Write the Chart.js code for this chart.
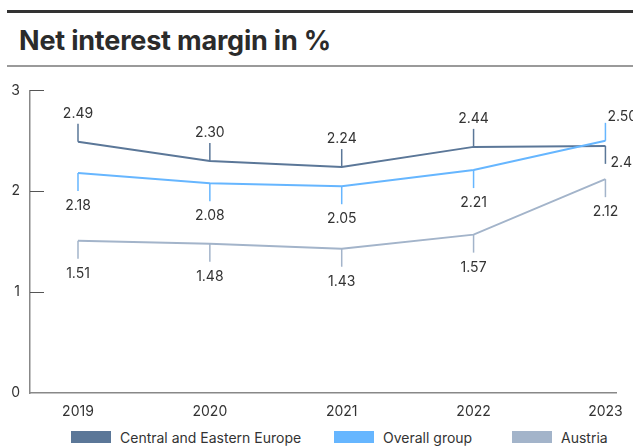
<!DOCTYPE html>
<html>
<head>
<meta charset="utf-8">
<script src="https://cdn.jsdelivr.net/npm/chart.js@4"></script>
<style>
  html, body { margin: 0; padding: 0; background: #fff; }
  body { width: 633px; height: 448px; position: relative; overflow: hidden; font-family: Inter, Roboto, sans-serif; }
  .rule-top { position: absolute; left: 7px; right: 0; top: 10px; height: 3px; background: #333; }
  .rule-mid { position: absolute; left: 7px; right: 0; top: 65px; height: 2px; background: #9a9a9a; }
  h1 { position: absolute; left: 19px; top: 26px; margin: 0; font-size: 27px; line-height: 30px; font-weight: 700; color: #2b2b2b; letter-spacing: -0.2px; }
  #chart-wrap { position: absolute; left: 0; top: 72px; width: 633px; height: 356px; }
  #legend { position: absolute; top: 428px; left: 0; width: 633px; height: 18px; font-size: 14px; color: #333; }
  .item { position: absolute; top: 0; display: flex; align-items: center; height: 18px; white-space: nowrap; }
  .swatch { width: 40px; height: 12px; margin-right: 9px; }
</style>
</head>
<body>
<div class="rule-top"></div>
<h1>Net interest margin in %</h1>
<div class="rule-mid"></div>
<div id="chart-wrap"><canvas id="nim-chart" width="633" height="356"></canvas></div>
<div id="legend"></div>
<script>
// Datos
const years = [2019, 2020, 2021, 2022, 2023];
const seriesNames = ['Central and Eastern Europe', 'Overall group', 'Austria'];
const ceeValues = [2.49, 2.30, 2.24, 2.44, 2.45];
const groupValues = [2.18, 2.08, 2.05, 2.21, 2.50];
const austriaValues = [1.51, 1.48, 1.43, 1.57, 2.12];
const yTicks = [0, 1, 2, 3];

const colors = ['#5b7798', '#66b6ff', '#a3b4ca'];
// donde va cada etiqueta (arriba / abajo / al lado)
const labelPos = [
    ['up', 'up', 'up', 'up', 'downRight'],
    ['down', 'down', 'down', 'down', 'upRight'],
    ['down', 'down', 'down', 'down', 'down']
];
const legendLeft = [71, 334, 512];

const toPoints = vals => years.map((y, i) => ({ x: y, y: vals[i] }));

// lineas guia + valores
const valueLabels = {
    id: 'valueLabels',
    afterDatasetsDraw(chart) {
        const ctx = chart.ctx;
        ctx.save();
        ctx.font = '14px Inter, Roboto, sans-serif';
        ctx.fillStyle = '#333';
        chart.data.datasets.forEach((ds, i) => {
            const meta = chart.getDatasetMeta(i);
            meta.data.forEach((pt, j) => {
                const pos = labelPos[i][j];
                const up = pos.startsWith('up');
                const end = up ? pt.y - 18 : pt.y + 18;
                ctx.strokeStyle = ds.borderColor;
                ctx.lineWidth = 1.5;
                ctx.beginPath();
                ctx.moveTo(pt.x, pt.y);
                ctx.lineTo(pt.x, end);
                ctx.stroke();
                const txt = ds.data[j].y.toFixed(2);
                ctx.textBaseline = 'alphabetic';
                if (pos === 'up') {
                    ctx.textAlign = 'center';
                    ctx.fillText(txt, pt.x, end - 6);
                } else if (pos === 'down') {
                    ctx.textAlign = 'center';
                    ctx.fillText(txt, pt.x, end + 19);
                } else if (pos === 'upRight') {
                    ctx.textAlign = 'left';
                    ctx.fillText(txt, pt.x + 2, end - 2);
                } else {
                    ctx.textAlign = 'left';
                    ctx.fillText(txt, pt.x + 5, end + 3);
                }
            });
        });
        ctx.restore();
    }
};

// marcas del eje y hacia dentro
const innerTicks = {
    id: 'innerTicks',
    afterDraw(chart) {
        const ctx = chart.ctx;
        const y = chart.scales.y;
        const left = chart.chartArea.left;
        ctx.save();
        ctx.strokeStyle = '#555';
        ctx.lineWidth = 1;
        yTicks.slice(1).forEach(v => {
            const py = Math.round(y.getPixelForValue(v)) + 0.5;
            ctx.beginPath();
            ctx.moveTo(left, py);
            ctx.lineTo(left + 14, py);
            ctx.stroke();
        });
        ctx.restore();
    }
};

const ctx = document.getElementById('nim-chart').getContext('2d');
const nimChart = new Chart(ctx, {
    type: 'line',
    data: {
        datasets: [
            { label: seriesNames[0], data: toPoints(ceeValues), borderColor: colors[0], backgroundColor: colors[0], order: 1 },
            { label: seriesNames[1], data: toPoints(groupValues), borderColor: colors[1], backgroundColor: colors[1], order: 0 },
            { label: seriesNames[2], data: toPoints(austriaValues), borderColor: colors[2], backgroundColor: colors[2], order: 2 }
        ]
    },
    options: {
        responsive: false,
        animation: false,
        devicePixelRatio: 1,
        elements: {
            line: { borderWidth: 2, tension: 0 },
            point: { radius: 0 }
        },
        layout: { padding: { top: 15, right: 16, left: 0, bottom: 0 } },
        scales: {
            x: {
                type: 'linear',
                min: 2018.636,
                max: 2023.083,
                grid: { display: false, drawTicks: false },
                border: { display: true, color: '#888', width: 1.5 },
                ticks: {
                    stepSize: 1,
                    includeBounds: false,
                    padding: 10,
                    color: '#333',
                    font: { family: 'Inter, Roboto, sans-serif', size: 14 },
                    maxRotation: 0,
                    callback: v => Number.isInteger(v) ? String(v) : ''
                },
                afterFit: s => { s.height = 35; }
            },
            y: {
                min: 0,
                max: 3,
                grid: { display: false, drawTicks: false },
                border: { display: true, color: '#888', width: 1.5 },
                ticks: {
                    stepSize: 1,
                    padding: 10,
                    color: '#333',
                    font: { family: 'Inter, Roboto, sans-serif', size: 14 }
                },
                afterFit: s => { s.width = 30; }
            }
        },
        plugins: {
            legend: { display: false },
            tooltip: { enabled: false }
        }
    },
    plugins: [valueLabels, innerTicks]
});

// leyenda en html
const legendEl = document.getElementById('legend');
nimChart.data.datasets.forEach((ds, i) => {
    const item = document.createElement('div');
    item.className = 'item';
    item.style.left = legendLeft[i] + 'px';
    item.innerHTML = `<span class="swatch" style="background:${ds.borderColor}"></span><span>${ds.label}</span>`;
    legendEl.appendChild(item);
});
</script>
</body>
</html>
